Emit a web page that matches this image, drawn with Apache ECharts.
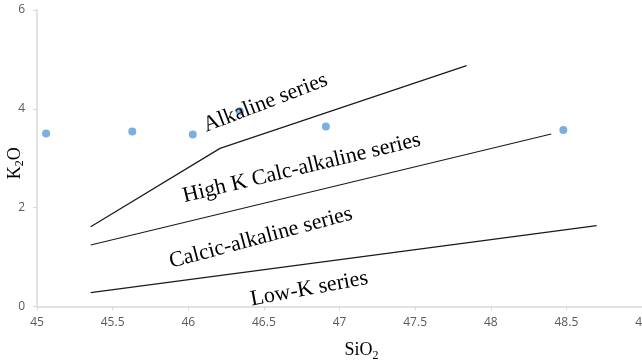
<!DOCTYPE html>
<html>
<head>
<meta charset="utf-8">
<script src="https://cdn.jsdelivr.net/npm/echarts@6/dist/echarts.min.js"></script>
<style>
  html, body { margin: 0; padding: 0; background: #fff; }
  #chart { width: 642px; height: 360px; }
</style>
</head>
<body>
<div id="chart"></div>
<script>
// sample points (SiO2, K2O)
const sampleSiO2 = [45.06, 45.63, 46.03, 46.34, 46.91, 48.48];
const sampleK2O = [3.50, 3.54, 3.48, 3.95, 3.64, 3.57];

// boundary lines between the series fields
const alkalineLine = [[45.355, 1.615], [46.21, 3.20], [47.84, 4.875]];
const highKLine = [[45.355, 1.245], [48.40, 3.49]];
const lowKLine = [[45.355, 0.28], [48.70, 1.636]];

// field names: text, anchor [SiO2, K2O], angle in degrees
const fieldNames = ["Alkaline series", "High K Calc-alkaline series", "Calcic-alkaline series", "Low-K series"];
const fieldAnchors = [[46.51, 4.12], [46.75, 2.80], [46.48, 1.39], [46.80, 0.355]];
const fieldAngles = [21, 13.5, 15, 10.6];

const chart = echarts.init(document.getElementById("chart"));

const boundary = (data) => ({
  type: "line",
  data: data,
  showSymbol: false,
  silent: true,
  lineStyle: { color: "#1a1a1a", width: 1.2 },
  z: 2,
});

const nameStyle = (pad) => ({
  fontFamily: "Liberation Serif",
  fontSize: 18,
  color: "#000",
  padding: pad,
  rich: {
    sub: { fontFamily: "Liberation Serif", fontSize: 12, color: "#000", padding: [10, 0, 0, 0] },
  },
});

chart.setOption({
  animation: false,
  grid: { left: 37, right: 0, top: 10, bottom: 53.5, outerBoundsMode: "none", containLabel: false },
  xAxis: {
    type: "value",
    min: 45,
    max: 49,
    interval: 0.5,
    name: "SiO{sub|2}",
    nameLocation: "middle",
    nameGap: 33,
    nameMoveOverlap: false,
    nameTextStyle: nameStyle([0, 0, 0, 44]),
    axisLine: { lineStyle: { color: "#d9d9d9", width: 1.5 } },
    axisTick: { show: true, length: 4, lineStyle: { color: "#d9d9d9" } },
    axisLabel: { color: "#595959", fontFamily: "Open Sans", fontSize: 12, margin: 10, hideOverlap: false },
    splitLine: { show: false },
  },
  yAxis: {
    type: "value",
    min: 0,
    max: 6,
    interval: 2,
    name: "K{sub|2}O",
    nameLocation: "middle",
    nameRotate: 90,
    nameGap: 11,
    nameMoveOverlap: false,
    nameTextStyle: nameStyle([0, 10, 0, 0]),
    axisLine: { show: true, lineStyle: { color: "#d9d9d9", width: 1.5 } },
    axisTick: { show: true, length: 4, lineStyle: { color: "#d9d9d9" } },
    axisLabel: { color: "#595959", fontFamily: "Open Sans", fontSize: 12, margin: 12 },
    splitLine: { show: false },
  },
  series: [
    boundary(alkalineLine),
    boundary(highKLine),
    boundary(lowKLine),
    {
      type: "scatter",
      data: sampleSiO2.map((x, i) => [x, sampleK2O[i]]),
      symbolSize: 8,
      itemStyle: { color: "#5b9bd5" },
      z: 1,
    },
  ],
});

// rotated field labels placed at data coordinates
const labels = fieldNames.map((name, i) => {
  const p = chart.convertToPixel({ gridIndex: 0 }, fieldAnchors[i]);
  return {
    type: "text",
    x: p[0],
    y: p[1],
    rotation: (fieldAngles[i] * Math.PI) / 180,
    z: 10,
    style: {
      text: name,
      fontFamily: "Liberation Serif",
      fontSize: 22,
      fill: "#000",
      align: "center",
      verticalAlign: "middle",
    },
  };
});
chart.setOption({ graphic: labels });
</script>
</body>
</html>
